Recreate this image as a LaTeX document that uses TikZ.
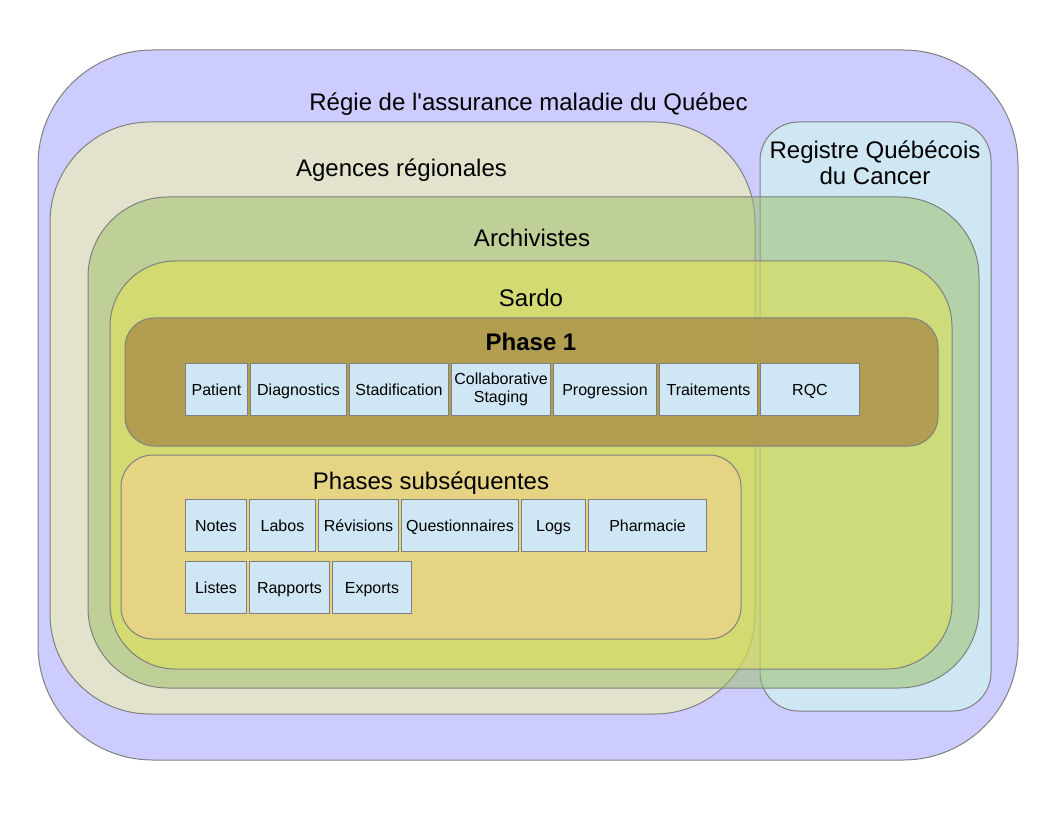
\documentclass[tikz,border=0pt]{standalone}
\usepackage{fontspec}
\setmainfont{Liberation Sans}
\usetikzlibrary{positioning}

\definecolor{ramq}{RGB}{204,204,255}
\definecolor{agences}{RGB}{227,227,205}
\definecolor{registre}{RGB}{207,230,243}
\definecolor{archiv}{RGB}{155,191,98}
\definecolor{sardo}{RGB}{233,229,77}
\definecolor{phaseun}{RGB}{174,152,78}
\definecolor{phasesub}{RGB}{230,212,133}
\definecolor{boxfill}{RGB}{207,231,245}
\definecolor{trait}{RGB}{128,128,128}

\tikzset{
  zone/.style={draw=trait, line width=0.75pt},
  zonetitle/.style={anchor=base, inner sep=0.75pt, font=\fontsize{18pt}{20pt}\selectfont},
  item/.style={draw=trait, fill=boxfill, line width=0.75pt, inner sep=1pt,
    text height=10pt, text depth=0.8pt,
    minimum height=39pt, align=center, font=\fontsize{12pt}{13.5pt}\selectfont},
}

\begin{document}
\begin{tikzpicture}[x=0.75pt,y=0.75pt,yscale=-1,xscale=1, node distance=1.5pt]
	\useasboundingbox (0,0) rectangle (1056,816);
	%Rounded Rect [RAMQ]
	\draw [zone, fill=ramq, rounded corners=86pt] (38,50) rectangle (1018,760) ;
	%Rounded Rect [Agences]
	\draw [zone, fill=agences, rounded corners=75pt] (50,122) rectangle (755,714) ;
	%Rounded Rect [Registre]
	\draw [zone, fill=registre, rounded corners=29pt] (760,122) rectangle (991,711) ;
	%Rounded Rect [Archivistes]
	\draw [zone, fill=archiv, fill opacity=0.5, rounded corners=60pt] (88,197) rectangle (979,688) ;
	%Rounded Rect [Sardo]
	\draw [zone, fill=sardo, fill opacity=0.5, rounded corners=49pt] (110,261) rectangle (952,669) ;
	%Rounded Rect [Phase 1]
	\draw [zone, fill=phaseun, fill opacity=0.9, rounded corners=22pt] (125,318) rectangle (938,446) ;
	%Rounded Rect [Phases subsequentes]
	\draw [zone, fill=phasesub, rounded corners=24pt] (121,455) rectangle (741,639) ;

	% Text Node
	\node [zonetitle] (ramqtitle) at (528.5,111) {Régie de l\textquotesingle assurance maladie du Québec};
	% Text Node
	\node [zonetitle] (agencestitle) at (401.5,177) {Agences régionales};
	% Text Node
	\node [zonetitle] (registretitle) at (875,159) {Registre Québécois};
	\node [zonetitle] (registretitlebis) at (875,185) {du Cancer};
	% Text Node
	\node [zonetitle] (archivtitle) at (532,247) {Archivistes};
	% Text Node
	\node [zonetitle] (sardotitle) at (531,307) {Sardo};
	% Text Node
	\node [zonetitle, font=\fontsize{18pt}{20pt}\selectfont\bfseries] (phaseuntitle) at (531,350) {Phase 1};
	% Text Node
	\node [zonetitle] (phasesubtitle) at (431,489) {Phases subséquentes};

	% Phase 1 boxes
	\node [item, minimum width=46.5pt, anchor=north west] (patient) at (185,363) {Patient};
	\node [item, minimum width=72pt, right=of patient] (diagnostics) {Diagnostics};
	\node [item, minimum width=74.25pt, right=of diagnostics] (stadification) {Stadification};
	\node [item, minimum width=74.25pt, right=of stadification, text height=, text depth=] (collab) {Collaborative\\Staging};
	\node [item, minimum width=77.25pt, right=of collab] (progression) {Progression};
	\node [item, minimum width=73.5pt, right=of progression] (traitements) {Traitements};
	\node [item, minimum width=74.25pt, right=of traitements] (rqc) {RQC};

	% Phases subsequentes boxes
	\node [item, minimum width=45.75pt, anchor=north west] (notes) at (185,499) {Notes};
	\node [item, minimum width=49.5pt, right=of notes] (labos) {Labos};
	\node [item, minimum width=60pt, right=of labos] (revisions) {Révisions};
	\node [item, minimum width=87.75pt, right=of revisions] (questionnaires) {Questionnaires};
	\node [item, minimum width=48pt, right=of questionnaires] (logs) {Logs};
	\node [item, minimum width=88.5pt, right=of logs] (pharmacie) {Pharmacie};
	\node [item, minimum width=45.75pt, anchor=north west] (listes) at (185,561) {Listes};
	\node [item, minimum width=60pt, right=of listes] (rapports) {Rapports};
	\node [item, minimum width=59.25pt, right=of rapports] (exports) {Exports};
\end{tikzpicture}
\end{document}
